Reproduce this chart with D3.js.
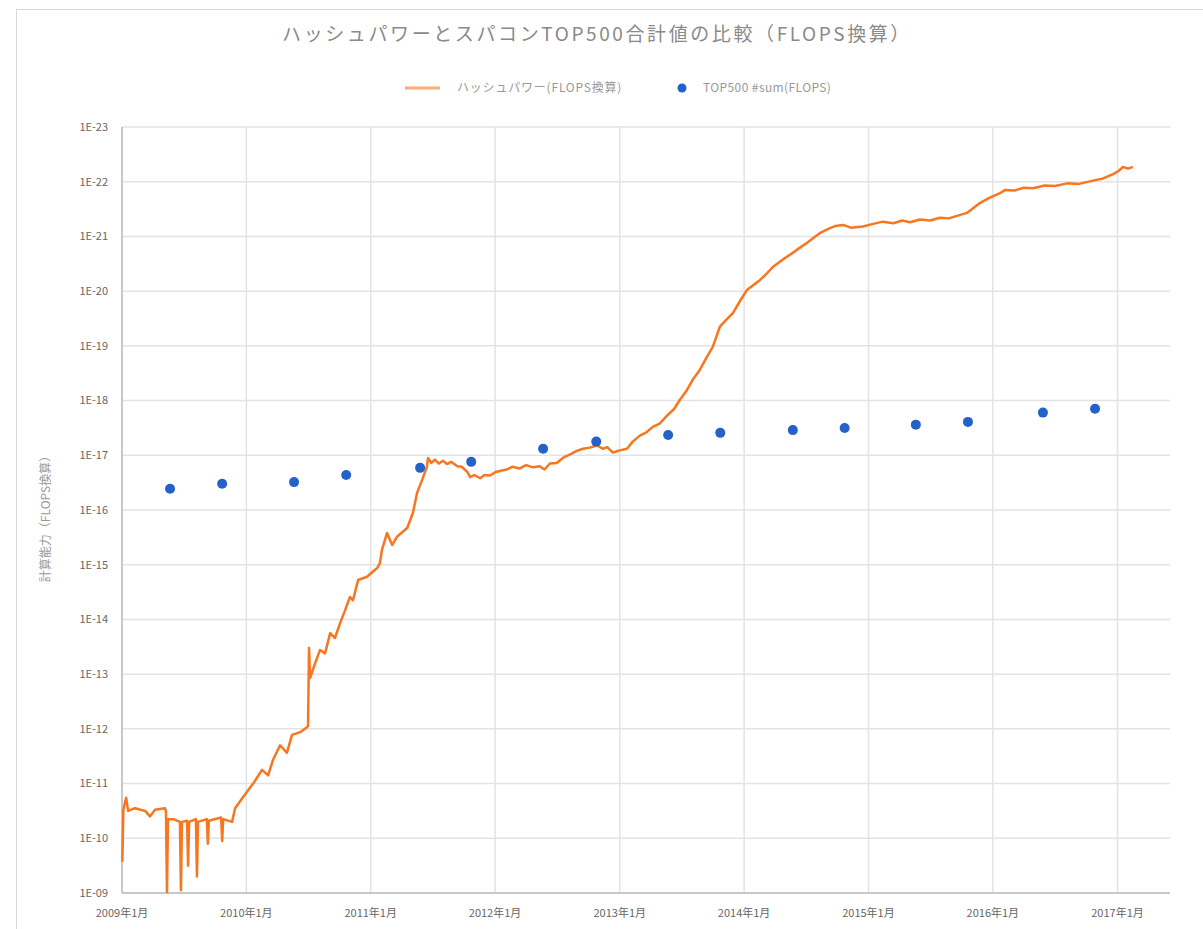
<!DOCTYPE html>
<html>
<head>
<meta charset="utf-8">
<script src="https://cdn.jsdelivr.net/npm/d3@7"></script>
<style>
  body { margin: 0; background: #fff; }
  text { font-family: "Noto Sans CJK JP", "Noto Sans", sans-serif; }
</style>
</head>
<body>
<div id="chart"></div>
<script>
// hash power converted to FLOPS (log10 exponent)
const hashDates = [
  "2009-01-02","2009-01-05","2009-01-13","2009-01-19","2009-02-08","2009-03-10","2009-03-24","2009-04-08","2009-05-07","2009-05-10",
  "2009-05-13","2009-05-16","2009-06-01","2009-06-20","2009-06-23","2009-06-26","2009-07-11","2009-07-14","2009-07-17","2009-08-06",
  "2009-08-09","2009-08-12","2009-09-07","2009-09-10","2009-09-13","2009-10-19","2009-10-22","2009-10-25","2009-11-20","2009-11-29",
  "2009-12-22","2010-01-21","2010-02-16","2010-03-06","2010-03-20","2010-04-10","2010-04-30","2010-05-15","2010-06-08","2010-06-28",
  "2010-07-01","2010-07-04","2010-07-07","2010-07-22","2010-08-05","2010-08-20","2010-09-04","2010-09-18","2010-10-03","2010-10-18",
  "2010-11-01","2010-11-10","2010-11-25","2010-12-21","2011-01-20","2011-01-28","2011-02-03","2011-02-18","2011-03-05","2011-03-19",
  "2011-04-18","2011-05-05","2011-05-17","2011-06-01","2011-06-15","2011-06-18","2011-06-28","2011-07-08","2011-07-20","2011-08-01",
  "2011-08-13","2011-08-25","2011-09-12","2011-09-25","2011-10-11","2011-10-20","2011-11-01","2011-11-18","2011-12-01","2011-12-17",
  "2012-01-05","2012-02-04","2012-02-20","2012-03-14","2012-04-01","2012-04-21","2012-05-11","2012-05-25","2012-06-10","2012-06-30",
  "2012-07-20","2012-08-10","2012-08-28","2012-09-15","2012-10-05","2012-10-26","2012-11-12","2012-11-25","2012-12-12","2013-01-01",
  "2013-01-22","2013-02-08","2013-03-01","2013-03-20","2013-04-08","2013-04-28","2013-05-19","2013-06-10","2013-06-26","2013-07-17",
  "2013-08-03","2013-08-24","2013-09-12","2013-10-01","2013-10-22","2013-11-10","2013-11-29","2013-12-20","2014-01-09","2014-02-16",
  "2014-03-05","2014-03-26","2014-04-25","2014-05-24","2014-06-15","2014-07-04","2014-07-25","2014-08-11","2014-09-10","2014-09-25",
  "2014-10-18","2014-11-10","2014-12-16","2015-01-15","2015-02-12","2015-03-15","2015-04-10","2015-05-03","2015-06-01","2015-07-01",
  "2015-07-30","2015-08-25","2015-09-20","2015-10-17","2015-11-05","2015-11-24","2015-12-20","2016-01-22","2016-02-06","2016-03-05",
  "2016-04-01","2016-04-28","2016-06-01","2016-07-01","2016-08-06","2016-09-10","2016-10-21","2016-11-20","2016-12-19","2017-01-05",
  "2017-01-17","2017-02-01","2017-02-15"
];
const hashExp = [
  9.57,10.52,10.74,10.50,10.55,10.50,10.40,10.52,10.55,10.50,
  9.02,10.35,10.35,10.30,9.05,10.30,10.32,9.50,10.30,10.35,
  9.30,10.30,10.35,9.90,10.32,10.38,9.95,10.35,10.30,10.55,
  10.75,11.00,11.25,11.15,11.43,11.70,11.56,11.89,11.94,12.03,
  12.05,13.48,12.93,13.20,13.44,13.38,13.75,13.66,13.93,14.17,
  14.41,14.35,14.72,14.78,14.94,15.03,15.27,15.58,15.36,15.51,
  15.67,15.95,16.31,16.55,16.79,16.95,16.86,16.92,16.85,16.90,
  16.84,16.88,16.80,16.79,16.70,16.60,16.64,16.58,16.64,16.63,
  16.70,16.74,16.79,16.76,16.82,16.78,16.80,16.74,16.85,16.86,
  16.96,17.02,17.08,17.12,17.14,17.18,17.12,17.15,17.05,17.09,
  17.12,17.25,17.36,17.42,17.52,17.58,17.72,17.85,18.01,18.19,
  18.38,18.56,18.78,18.98,19.35,19.48,19.60,19.82,20.02,20.20,
  20.30,20.44,20.58,20.70,20.80,20.88,20.98,21.06,21.15,21.19,
  21.21,21.16,21.18,21.23,21.27,21.24,21.29,21.26,21.31,21.29,
  21.34,21.33,21.38,21.43,21.52,21.61,21.70,21.79,21.85,21.84,
  21.89,21.88,21.93,21.92,21.97,21.96,22.02,22.06,22.14,22.20,
  22.27,22.24,22.27
];

// TOP500 sum (log10 exponent), spring and autumn lists
const topDates = [
  "2009-05-22","2009-10-22","2010-05-21","2010-10-21","2011-05-26","2011-10-23","2012-05-21","2012-10-24",
  "2013-05-23","2013-10-23","2014-05-24","2014-10-23","2015-05-20","2015-10-20","2016-05-27","2016-10-27"
];
const topExp = [16.39,16.48,16.51,16.64,16.77,16.88,17.12,17.25,17.37,17.41,17.46,17.50,17.56,17.61,17.78,17.85];

const yearTicks = [2009,2010,2011,2012,2013,2014,2015,2016,2017];
const expTicks = [9,10,11,12,13,14,15,16,17,18,19,20,21,22,23];

const W = 1203, H = 929;
const margin = {top: 127, right: 33, bottom: 36, left: 122};

const svg = d3.select("#chart").append("svg")
    .attr("width", W)
    .attr("height", H);

// outer frame
svg.append("rect")
    .attr("x", 16.5).attr("y", 9.5)
    .attr("width", W).attr("height", H)
    .attr("fill", "none")
    .attr("stroke", "#d9d9d9");

const parse = d3.timeParse("%Y-%m-%d");

const x = d3.scaleTime()
    .domain([new Date(2009, 0, 1), new Date(2017, 5, 4)])
    .range([margin.left, W - margin.right]);

const y = d3.scaleLog()
    .domain([1e9, 1e23])
    .range([H - margin.bottom, margin.top]);

// grid
svg.append("g").selectAll("line")
    .data(expTicks)
    .join("line")
    .attr("x1", margin.left).attr("x2", W - margin.right)
    .attr("y1", d => y(Math.pow(10, d))).attr("y2", d => y(Math.pow(10, d)))
    .attr("stroke", "#e3e3e3")
    .attr("stroke-width", 1.5);

svg.append("g").selectAll("line")
    .data(yearTicks)
    .join("line")
    .attr("x1", d => x(new Date(d, 0, 1))).attr("x2", d => x(new Date(d, 0, 1)))
    .attr("y1", margin.top).attr("y2", H - margin.bottom)
    .attr("stroke", "#e3e3e3")
    .attr("stroke-width", 1.5);

// axes lines
svg.append("line")
    .attr("x1", margin.left).attr("x2", W - margin.right)
    .attr("y1", H - margin.bottom).attr("y2", H - margin.bottom)
    .attr("stroke", "#bdbdbd").attr("stroke-width", 1.5);
svg.append("line")
    .attr("x1", margin.left).attr("x2", margin.left)
    .attr("y1", margin.top).attr("y2", H - margin.bottom)
    .attr("stroke", "#bdbdbd").attr("stroke-width", 1.5);

// y tick labels
svg.append("g").selectAll("text")
    .data(expTicks)
    .join("text")
    .attr("x", 108)
    .attr("y", d => y(Math.pow(10, d)))
    .attr("dy", "0.35em")
    .attr("text-anchor", "end")
    .attr("font-size", 11)
    .attr("fill", "#666")
    .text(d => "1E-" + String(d).padStart(2, "0"));

// x tick labels
svg.append("g").selectAll("text")
    .data(yearTicks)
    .join("text")
    .attr("x", d => x(new Date(d, 0, 1)))
    .attr("y", 917)
    .attr("text-anchor", "middle")
    .attr("font-size", 11)
    .attr("fill", "#666")
    .text(d => d + "年1月");

// y axis title
svg.append("text")
    .attr("transform", "translate(50,516) rotate(-90)")
    .attr("text-anchor", "middle")
    .attr("font-size", 12)
    .attr("fill", "#999")
    .text("計算能力（FLOPS換算）");

// title
svg.append("text")
    .attr("x", 597).attr("y", 41)
    .attr("text-anchor", "middle")
    .attr("font-size", 19)
    .attr("letter-spacing", 2.6)
    .attr("fill", "#8a8a8a")
    .text("ハッシュパワーとスパコンTOP500合計値の比較（FLOPS換算）");

// legend
const legend = svg.append("g");
legend.append("line")
    .attr("x1", 405).attr("x2", 440)
    .attr("y1", 88).attr("y2", 88)
    .attr("stroke", "#fbab74").attr("stroke-width", 3);
legend.append("text")
    .attr("x", 457).attr("y", 92)
    .attr("font-size", 12).attr("letter-spacing", 0.8).attr("fill", "#999")
    .text("ハッシュパワー(FLOPS換算)");
legend.append("circle")
    .attr("cx", 682).attr("cy", 88).attr("r", 4.5)
    .attr("fill", "#2461c9");
legend.append("text")
    .attr("x", 703).attr("y", 92)
    .attr("font-size", 12).attr("letter-spacing", 0.4).attr("fill", "#999")
    .text("TOP500 #sum(FLOPS)");

// hash power line
const hashData = hashDates.map((d, i) => ({date: parse(d), value: Math.pow(10, hashExp[i])}));

const line = d3.line()
    .x(d => x(d.date))
    .y(d => y(d.value));

svg.append("path")
    .datum(hashData)
    .attr("d", line)
    .attr("fill", "none")
    .attr("stroke", "#f7761f")
    .attr("stroke-width", 2.5)
    .attr("stroke-linejoin", "round");

// TOP500 dots
const topData = topDates.map((d, i) => ({date: parse(d), value: Math.pow(10, topExp[i])}));

svg.append("g").selectAll("circle")
    .data(topData)
    .join("circle")
    .attr("cx", d => x(d.date))
    .attr("cy", d => y(d.value))
    .attr("r", 5)
    .attr("fill", "#2461c9");
</script>
</body>
</html>
